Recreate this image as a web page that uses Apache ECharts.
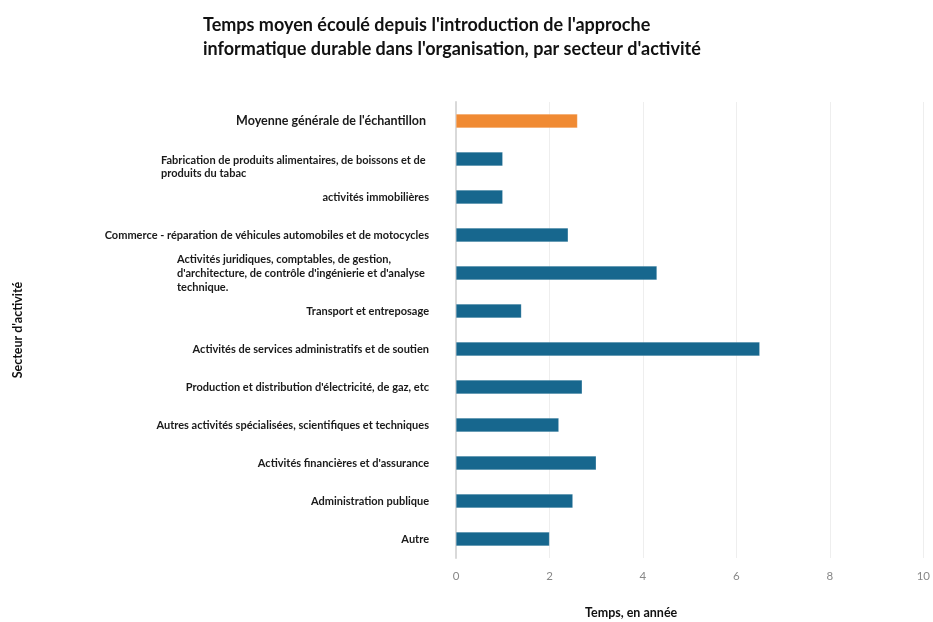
<!DOCTYPE html>
<html>
<head>
<meta charset="utf-8">
<script src="https://cdn.jsdelivr.net/npm/echarts@6/dist/echarts.min.js"></script>
<style>
  html, body { margin: 0; padding: 0; background: #fff; }
  #chart { width: 933px; height: 622px; }
</style>
</head>
<body>
<div id="chart"></div>
<script>
  // secteurs, de haut en bas
  var secteurs = [
    "Moyenne générale de l'échantillon",
    "Fabrication de produits alimentaires, de boissons et de produits du tabac",
    "activités immobilières",
    "Commerce - réparation de véhicules automobiles et de motocycles",
    "Activités juridiques, comptables, de gestion, d'architecture, de contrôle d'ingénierie et d'analyse technique.",
    "Transport et entreposage",
    "Activités de services administratifs et de soutien",
    "Production et distribution d'électricité, de gaz, etc",
    "Autres activités spécialisées, scientifiques et techniques",
    "Activités financières et d'assurance",
    "Administration publique",
    "Autre"
  ]
  var annees = [2.6, 1.0, 1.0, 2.4, 4.3, 1.4, 6.5, 2.7, 2.2, 3.0, 2.5, 2.0]
  var xTicks = [0, 2, 4, 6, 8, 10]

  var orange = '#f08a33'
  var bleu = '#17678e'
  var encre = '#1a1a1a'

  var myChart = echarts.init(document.getElementById('chart'))
  myChart.setOption({
    animation: false,
    title: {
      text: "Temps moyen écoulé depuis l'introduction de l'approche\ninformatique durable dans l'organisation, par secteur d'activité",
      left: 198,
      top: 8,
      textStyle: {
        fontFamily: 'Lato',
        fontWeight: 'bold',
        fontSize: 18,
        lineHeight: 24,
        color: '#111'
      }
    },
    grid: {
      left: 456,
      right: 7,
      top: 102,
      bottom: 64
    },
    xAxis: {
      type: 'value',
      min: xTicks[0],
      max: xTicks[xTicks.length - 1],
      interval: 2,
      axisLine: { show: false },
      axisTick: { show: false },
      axisLabel: {
        margin: 12,
        color: '#888',
        fontFamily: 'Lato',
        fontSize: 11.5
      },
      splitLine: {
        lineStyle: { color: '#eeeeee', width: 1 }
      }
    },
    yAxis: {
      type: 'category',
      inverse: true,
      data: secteurs,
      name: "Secteur d'activité",
      nameLocation: 'middle',
      nameGap: 432,
      nameTextStyle: {
        fontFamily: 'Lato',
        fontWeight: 'bold',
        fontSize: 12.5,
        color: '#111'
      },
      axisLine: { lineStyle: { color: '#d9d9d9', width: 2 } },
      axisTick: { show: false },
      axisLabel: {
        margin: 27,
        fontFamily: 'Lato',
        fontWeight: 'bold',
        fontSize: 11,
        color: encre,
        formatter: function (v, i) {
          if (i === 0) return '{big|' + v + '}'
          if (i === 1) return '{sp| }\n{fab|Fabrication de produits alimentaires, de boissons et de}\n{fab|produits du tabac}'
          if (i === 4) return "{jur|Activités juridiques, comptables, de gestion,}\n{jur|d'architecture, de contrôle d'ingénierie et d'analyse}\n{jur|technique.}"
          return v
        },
        rich: {
          big: { fontFamily: 'Lato', fontWeight: 'bold', fontSize: 12.5, color: encre, padding: [0, 3, 0, 0] },
          sp: { fontSize: 11, lineHeight: 16 },
          fab: { fontFamily: 'Lato', fontWeight: 'bold', fontSize: 11, color: encre, width: 268, align: 'left', lineHeight: 13 },
          jur: { fontFamily: 'Lato', fontWeight: 'bold', fontSize: 11, color: encre, width: 252, align: 'left', lineHeight: 14 }
        }
      },
      splitLine: { show: false }
    },
    graphic: [{
      type: 'text',
      left: 585,
      top: 606,
      style: {
        text: 'Temps, en année',
        font: 'bold 12.5px Lato',
        fill: '#111'
      }
    }],
    series: [{
      type: 'bar',
      data: annees.map(function (v, i) {
        return { value: v, itemStyle: { color: i === 0 ? orange : bleu } }
      }),
      barWidth: 14,
      itemStyle: {
        borderColor: 'rgba(255,255,255,0.35)',
        borderWidth: 0.5
      }
    }]
  })
</script>
</body>
</html>
